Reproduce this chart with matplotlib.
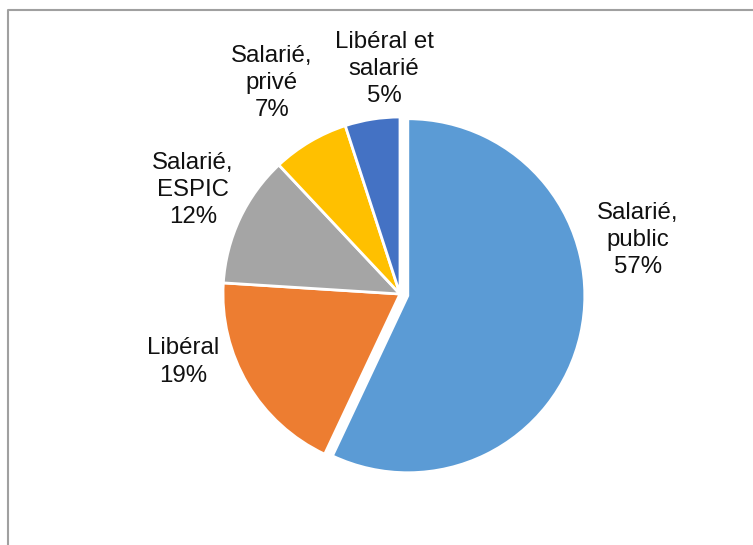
import matplotlib.pyplot as plt

# Répartition par mode d'exercice
categories = ["Salarié,\npublic", "Libéral", "Salarié,\nESPIC", "Salarié,\nprivé", "Libéral et\nsalarié"]
values = [57, 19, 12, 7, 5]
colors = ["#5B9BD5", "#ED7D31", "#A5A5A5", "#FFC000", "#4472C4"]
explode = [8, 0, 0, 0, 0]  # in data units (pixels here)

# label positions (pixels from top-left)
label_pos = [(638, 240), (183, 362), (193, 190), (272, 83), (384, 69)]

W, H = 753, 545
fig = plt.figure(figsize=(W / 100, H / 100), dpi=100)
ax = fig.add_axes([0, 0, 1, 1])

ax.pie(values, colors=colors, startangle=90, counterclock=False,
       center=(400, H - 294), radius=177, explode=explode,
       wedgeprops=dict(edgecolor="white", linewidth=2))

# pie() resets the limits, so set them afterwards
ax.set_xlim(0, W)
ax.set_ylim(0, H)
ax.set_aspect("equal")
ax.axis("off")

for name, v, (x, y) in zip(categories, values, label_pos):
    ax.text(x, H - y, f"{name}\n{v}%", ha="center", va="center",
            fontsize=17.3, family=["Liberation Sans", "DejaVu Sans"],
            linespacing=1.3, color="#111111")

# thin gray frame on the left and top edges
ax.plot([8.5, 8.5, W], [0, H - 9.5, H - 9.5], color="#A0A0A0", lw=1.5,
        clip_on=False)

fig.savefig("out.png", dpi=100)
